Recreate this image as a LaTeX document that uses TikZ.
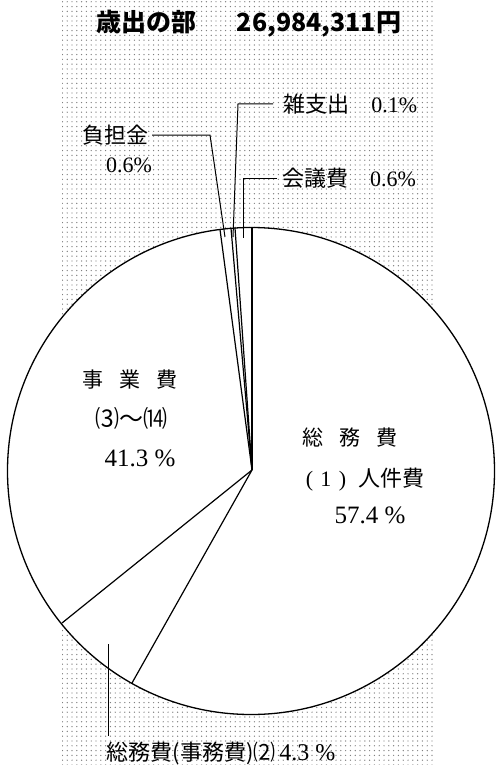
\documentclass[tikz,border=0pt]{standalone}
\usepackage{fontspec}
\setmainfont{Liberation Serif}
\newfontfamily\jp{Noto Sans CJK JP}
\usetikzlibrary{patterns.meta}

\begin{document}
\begin{tikzpicture}[x=0.5pt,y=-0.5pt,
        lbl/.style={inner sep=0pt,font=\jp\fontsize{11pt}{13pt}\selectfont},
        inlbl/.style={inner sep=0pt,font=\jp\fontsize{10.5pt}{12pt}\selectfont},
        pct/.style={inner sep=0pt,font=\rmfamily\fontsize{12.5pt}{14pt}\selectfont},
        slice/.style={line width=0.6pt},
        leader/.style={line width=0.5pt}]
    \useasboundingbox (0,0) rectangle (496,765);
    \fill[pattern={Dots[distance=2.4pt,radius=0.35pt]},pattern color=gray] (62,0) rectangle (433,765);
    \filldraw[fill=white,line width=0.65pt] (251,471) circle[radius=243.5];

    \node[inner sep=0pt,font=\jp\bfseries\fontsize{12.5pt}{14pt}\selectfont] (title) at (249,24) {歳出の部\hspace{20pt}26,984,311円};

    \coordinate (c) at (252,470);
    \coordinate (t0) at (252,227.5);
    \coordinate (t1) at (235,228);
    \coordinate (t2) at (231,228.3);
    \coordinate (t3) at (220,229.5);
    \coordinate (b1) at (62,623);
    \coordinate (b2) at (132,683);
    \foreach \p in {t0,t1,t2,t3,b1,b2}
        \draw[slice] (c) -- (\p);

    \node[lbl,anchor=west] (zatsu) at (283,104) {雑支出\hspace{11pt}{\rmfamily 0.1\%}};
    \node[lbl,anchor=east,outer xsep=2pt] (futan) at (152,135) {負担金};
    \node[lbl] (futanp) at (129,165) {\rmfamily 0.6\%};
    \node[lbl,anchor=west,outer xsep=2.5pt] (kaigi) at (277,178) {会議費\hspace{11pt}{\rmfamily 0.6\%}};

    \coordinate (zatsuK) at (238,104);
    \coordinate (zatsuE) at (233,237);
    \coordinate (futanK) at (210,135);
    \coordinate (futanE) at (225,237);
    \coordinate (kaigiK) at (243,178);
    \coordinate (kaigiE) at (243,238);
    \draw[leader] ([xshift=-5pt]zatsu.west) -- (zatsuK) -- (zatsuE);
    \draw[leader] (futan.east) -- (futanK) -- (futanE);
    \draw[leader] (kaigi.west) -- (kaigiK) -- (kaigiE);

    \node[inlbl] (jigyo) at (130,380) {事\hspace{8pt}業\hspace{8pt}費};
    \node[inlbl,font=\jp\fontsize{12pt}{14pt}\selectfont] (jigyon) at (131,418) {⑶～⒁};
    \node[pct] (jigyop) at (140,458) {41.3 \%};

    \node[inlbl] (somu) at (350,438) {総\hspace{8pt}務\hspace{8pt}費};
    \node[lbl] (jinken) at (365,480) {{\rmfamily(\,\,1\,\,)}\hspace{6pt}人件費};
    \node[pct] (somup) at (370,515) {57.4 \%};

    \node[lbl,outer ysep=3pt] (jimu) at (221,753) {総務費(事務費)⑵\,{\rmfamily\fontsize{12pt}{13pt}\selectfont 4.3 \%}};
    \coordinate (jimuE) at (108,644);
    \draw[leader] (jimuE) -- (jimuE |- jimu.north);
\end{tikzpicture}
\end{document}
